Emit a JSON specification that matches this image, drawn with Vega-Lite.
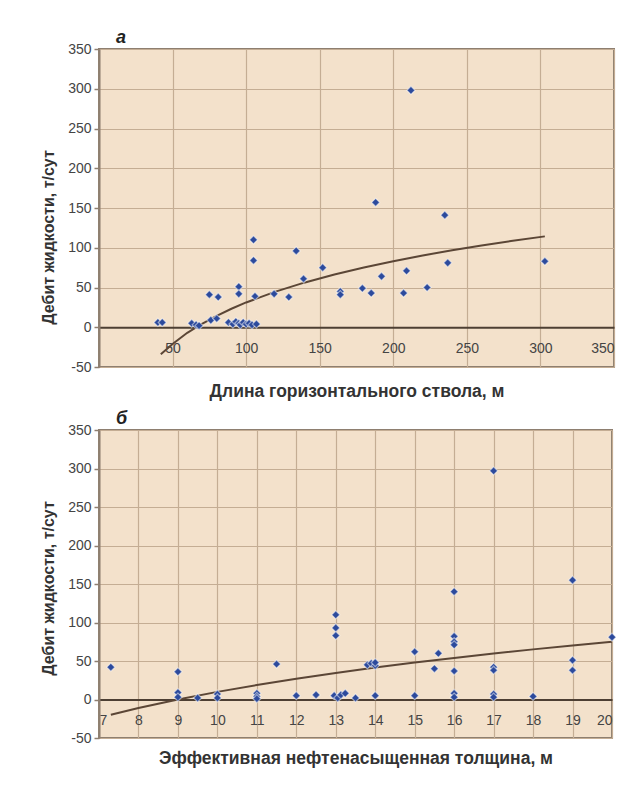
{
  "$schema": "https://vega.github.io/schema/vega-lite/v6.json",
  "background": "white",
  "padding": {"left": 39, "top": 28, "right": 10, "bottom": 0},
  "spacing": 8,
  "config": {
    "view": {"fill": "#f3e1cb", "stroke": "#8e7f70", "strokeWidth": 2},
    "axis": {
      "labelFont": "Liberation Sans", "labelFontSize": 14, "labelColor": "#444444",
      "titleFont": "Liberation Sans", "titleFontSize": 17.5, "titleFontWeight": "bold", "titleColor": "#333333",
      "gridColor": "#c4ad94", "gridWidth": 1.2
    },
    "title": {"font": "Liberation Sans", "fontSize": 18, "fontStyle": "italic", "fontWeight": "bold", "color": "#222222", "anchor": "start", "frame": "group"}
  },
  "datasets": {
    "a": [
      {"x": 40, "y": 6}, {"x": 43, "y": 6}, {"x": 63, "y": 5}, {"x": 66, "y": 3}, {"x": 68, "y": 2},
      {"x": 75, "y": 41}, {"x": 81, "y": 38}, {"x": 76, "y": 9}, {"x": 80, "y": 11},
      {"x": 88, "y": 6}, {"x": 91, "y": 4}, {"x": 93, "y": 7}, {"x": 95, "y": 5}, {"x": 96, "y": 3},
      {"x": 98, "y": 6}, {"x": 100, "y": 4}, {"x": 102, "y": 5}, {"x": 104, "y": 3}, {"x": 107, "y": 4},
      {"x": 95, "y": 51}, {"x": 95, "y": 42}, {"x": 105, "y": 110}, {"x": 105, "y": 84}, {"x": 106, "y": 39},
      {"x": 119, "y": 42}, {"x": 129, "y": 38}, {"x": 134, "y": 96}, {"x": 139, "y": 61}, {"x": 152, "y": 75},
      {"x": 164, "y": 45}, {"x": 164, "y": 41}, {"x": 179, "y": 49}, {"x": 185, "y": 43}, {"x": 188, "y": 157},
      {"x": 192, "y": 64}, {"x": 207, "y": 43}, {"x": 209, "y": 71}, {"x": 212, "y": 298}, {"x": 223, "y": 50},
      {"x": 235, "y": 141}, {"x": 237, "y": 81}, {"x": 303, "y": 83}
    ],
    "aTrend": [
      {"x": 42, "y": -34}, {"x": 50, "y": -21}, {"x": 60, "y": -7}, {"x": 70, "y": 4.4}, {"x": 80, "y": 14.4},
      {"x": 90, "y": 23.3}, {"x": 100, "y": 31.2}, {"x": 120, "y": 44.8}, {"x": 140, "y": 56.4}, {"x": 160, "y": 66.4},
      {"x": 180, "y": 75.2}, {"x": 200, "y": 83.1}, {"x": 220, "y": 90.3}, {"x": 240, "y": 96.8}, {"x": 260, "y": 102.9},
      {"x": 280, "y": 108.4}, {"x": 303, "y": 114.3}
    ],
    "b": [
      {"x": 7.3, "y": 42}, {"x": 9, "y": 36}, {"x": 9, "y": 9}, {"x": 9, "y": 3}, {"x": 9.5, "y": 2},
      {"x": 10, "y": 7}, {"x": 10, "y": 2}, {"x": 11, "y": 8}, {"x": 11, "y": 4}, {"x": 11, "y": 1},
      {"x": 11.5, "y": 46}, {"x": 12, "y": 5}, {"x": 12.5, "y": 6}, {"x": 13, "y": 110}, {"x": 13, "y": 93},
      {"x": 13, "y": 83}, {"x": 12.96, "y": 5}, {"x": 13.05, "y": 2}, {"x": 13.13, "y": 6}, {"x": 13.24, "y": 8},
      {"x": 13.5, "y": 2}, {"x": 13.8, "y": 45}, {"x": 13.9, "y": 47}, {"x": 14, "y": 44}, {"x": 14, "y": 48},
      {"x": 14, "y": 5}, {"x": 15, "y": 62}, {"x": 15, "y": 5}, {"x": 15.5, "y": 40}, {"x": 15.6, "y": 60},
      {"x": 16, "y": 140}, {"x": 16, "y": 82}, {"x": 16, "y": 75}, {"x": 16, "y": 71}, {"x": 16, "y": 37},
      {"x": 16, "y": 8}, {"x": 16, "y": 3}, {"x": 17, "y": 297}, {"x": 17, "y": 42}, {"x": 17, "y": 38},
      {"x": 17, "y": 7}, {"x": 17, "y": 3}, {"x": 18, "y": 4}, {"x": 19, "y": 155}, {"x": 19, "y": 51},
      {"x": 19, "y": 38}, {"x": 20, "y": 81}
    ],
    "bTrend": [
      {"x": 7.3, "y": -19.7}, {"x": 8, "y": -11.1}, {"x": 9, "y": 0}, {"x": 10, "y": 9.9}, {"x": 11, "y": 18.8},
      {"x": 12, "y": 27}, {"x": 13, "y": 34.5}, {"x": 14, "y": 41.5}, {"x": 15, "y": 48}, {"x": 16, "y": 54},
      {"x": 17, "y": 59.7}, {"x": 18, "y": 65.1}, {"x": 19, "y": 70.2}, {"x": 20, "y": 75}
    ]
  },
  "vconcat": [
    {
      "title": {"text": "а", "dx": 17, "offset": -5},
      "width": 515, "height": 318,
      "encoding": {
        "x": {"field": "x", "type": "quantitative", "scale": {"domain": [0, 350], "nice": false, "zero": false},
          "axis": {"values": [0, 50, 100, 150, 200, 250, 300, 350], "labelExpr": "datum.value == 0 ? '' : '' + datum.value",
            "offset": -39.75, "ticks": false, "tickSize": 0, "labelPadding": 14, "labelFlush": true,
            "domainColor": "#4d3f33", "domainWidth": 2.2, "grid": true,
            "title": "Длина горизонтального ствола, м", "titleY": 64, "titleBaseline": "middle"}},
        "y": {"field": "y", "type": "quantitative", "scale": {"domain": [-50, 350], "nice": false, "zero": false},
          "axis": {"values": [-50, 0, 50, 100, 150, 200, 250, 300, 350], "labelExpr": "'' + datum.value", "grid": true, "tickSize": 5, "tickColor": "#8e7f70", "tickWidth": 1.5,
            "domainColor": "#8e7f70", "domainWidth": 2, "labelPadding": 3,
            "title": "Дебит жидкости, т/сут", "titleFontSize": 16, "titleX": -51, "titleY": 188, "titleAngle": -90, "titleBaseline": "middle", "titleAlign": "center"}}
      },
      "layer": [
        {"data": {"name": "aTrend"}, "mark": {"type": "line", "color": "#5b4636", "strokeWidth": 2}},
        {"data": {"name": "a"}, "mark": {"type": "point", "shape": "diamond", "filled": true, "size": 65, "color": "#2c4a9c", "opacity": 1, "stroke": "#ffffff", "strokeOpacity": 0.5, "strokeWidth": 1.2}}
      ]
    },
    {
      "title": {"text": "б", "dx": 17, "offset": -5},
      "width": 513, "height": 308,
      "encoding": {
        "x": {"field": "x", "type": "quantitative", "scale": {"domain": [7, 20], "nice": false, "zero": false},
          "axis": {"values": [7, 8, 9, 10, 11, 12, 13, 14, 15, 16, 17, 18, 19, 20],
            "offset": -38.5, "ticks": false, "tickSize": 0, "labelPadding": 14, "labelFlush": true,
            "domainColor": "#4d3f33", "domainWidth": 2.2, "grid": true,
            "title": "Эффективная нефтенасыщенная толщина, м", "titleY": 58.5, "titleBaseline": "middle"}},
        "y": {"field": "y", "type": "quantitative", "scale": {"domain": [-50, 350], "nice": false, "zero": false},
          "axis": {"values": [-50, 0, 50, 100, 150, 200, 250, 300, 350], "labelExpr": "'' + datum.value", "grid": true, "tickSize": 5, "tickColor": "#8e7f70", "tickWidth": 1.5,
            "domainColor": "#8e7f70", "domainWidth": 2, "labelPadding": 3,
            "title": "Дебит жидкости, т/сут", "titleFontSize": 16, "titleX": -51, "titleY": 158, "titleAngle": -90, "titleBaseline": "middle", "titleAlign": "center"}}
      },
      "layer": [
        {"data": {"name": "bTrend"}, "mark": {"type": "line", "color": "#5b4636", "strokeWidth": 2}},
        {"data": {"name": "b"}, "mark": {"type": "point", "shape": "diamond", "filled": true, "size": 65, "color": "#2c4a9c", "opacity": 1, "stroke": "#ffffff", "strokeOpacity": 0.5, "strokeWidth": 1.2, "clip": false}}
      ]
    }
  ]
}
